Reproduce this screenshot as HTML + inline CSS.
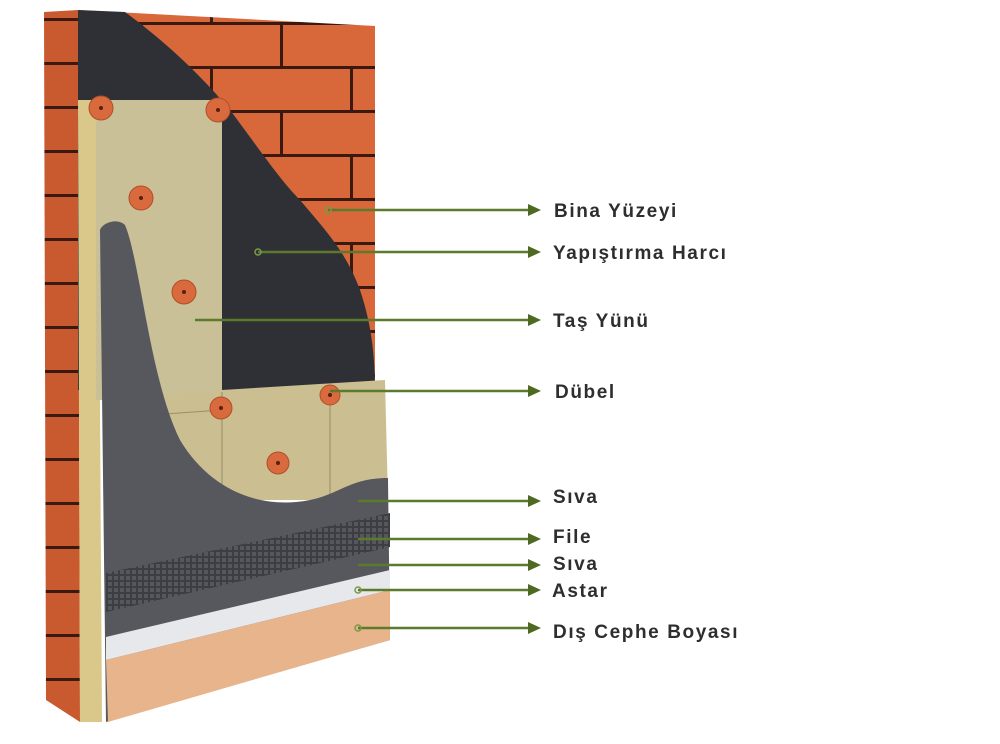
<!DOCTYPE html>
<html><head><meta charset="utf-8"><style>
html,body{margin:0;padding:0;background:#fff;}
svg{display:block;}
text{font-family:"Liberation Sans","DejaVu Sans",sans-serif;font-size:19px;font-weight:bold;fill:#2e2e2e;letter-spacing:1.6px;}
</style></head><body>
<svg width="1000" height="744" viewBox="0 0 1000 744" xmlns="http://www.w3.org/2000/svg">
<defs>
<pattern id="brick" x="0" y="22" width="140" height="88" patternUnits="userSpaceOnUse">
<rect width="140" height="88" fill="#d8683a"/>
<rect x="0" y="0" width="140" height="3" fill="#3a1a10"/>
<rect x="0" y="44" width="140" height="3" fill="#3a1a10"/>
<rect x="0" y="0" width="3" height="44" fill="#3a1a10"/>
<rect x="70" y="44" width="3" height="44" fill="#3a1a10"/>
</pattern>
<pattern id="sbrick" x="0" y="18" width="40" height="44" patternUnits="userSpaceOnUse">
<rect width="40" height="44" fill="#c95a30"/>
<rect y="0" width="40" height="3" fill="#3a1a10"/>
</pattern>
<pattern id="mesh" width="6" height="6" patternUnits="userSpaceOnUse">
<rect width="6" height="6" fill="#3c3e44"/>
<rect width="4" height="4" fill="#55575d"/>
</pattern>
</defs>
<polygon points="44,12 78,10 80,722 46,700" fill="url(#sbrick)"/>
<polygon points="78,10 375,26 375,390 78,390" fill="url(#brick)"/>
<path d="M78,10 L125,12 C170,45 205,80 230,110 C260,150 280,180 300,200 C325,230 345,250 360,290 C370,320 375,350 375,390 L78,390 Z" fill="#2e3036"/>
<polygon points="78,100 98,100 102,722 80,722" fill="#d9c88a"/>
<rect x="96" y="100" width="126" height="300" fill="#c9c098"/>
<polygon points="150,395 222,390 385,380 388,500 150,500" fill="#cbbf92"/>
<line x1="222" y1="392" x2="222" y2="505" stroke="#9a8e66" stroke-width="1"/>
<line x1="330" y1="385" x2="330" y2="500" stroke="#9a8e66" stroke-width="1"/>
<line x1="150" y1="415" x2="222" y2="410" stroke="#9a8e66" stroke-width="1"/>
<path d="M100,230 C103,222 118,218 125,225 C140,260 150,380 180,440 C210,490 260,510 310,500 C340,494 350,478 388,478 L390,640 L106,722 Z" fill="#56585e"/>
<polygon points="106,573 390,513 390,547 106,612" fill="url(#mesh)"/>
<polygon points="106,637 390,570 390,590 106,660" fill="#e6e8ec"/>
<polygon points="106,660 390,590 390,640 108,722" fill="#e8b48c"/>
<g fill="#d86a3e" stroke="#b24e28" stroke-width="1">
<circle cx="101" cy="108" r="12"/><circle cx="218" cy="110" r="12"/>
<circle cx="141" cy="198" r="12"/><circle cx="184" cy="292" r="12"/>
<circle cx="221" cy="408" r="11"/><circle cx="330" cy="395" r="10"/>
<circle cx="278" cy="463" r="11"/>
</g>
<g fill="#5a2010">
<circle cx="101" cy="108" r="2"/><circle cx="218" cy="110" r="2"/><circle cx="141" cy="198" r="2"/><circle cx="184" cy="292" r="2"/><circle cx="221" cy="408" r="2"/><circle cx="330" cy="395" r="2"/><circle cx="278" cy="463" r="2"/>
</g>
<g stroke="#5c7a2c" stroke-width="2.5" fill="none">
<line x1="328" y1="210" x2="532" y2="210"/>
<line x1="258" y1="252" x2="532" y2="252"/>
<line x1="195" y1="320" x2="532" y2="320"/>
<line x1="330" y1="391" x2="532" y2="391"/>
<line x1="358" y1="501" x2="532" y2="501"/>
<line x1="358" y1="539" x2="532" y2="539"/>
<line x1="358" y1="565" x2="532" y2="565"/>
<line x1="358" y1="590" x2="532" y2="590"/>
<line x1="358" y1="628" x2="532" y2="628"/>
</g>
<g fill="none" stroke="#7a9a44" stroke-width="1.5">
<circle cx="328" cy="210" r="3"/><circle cx="258" cy="252" r="3"/><circle cx="358" cy="590" r="3"/><circle cx="358" cy="628" r="3"/>
</g>
<g fill="#4e6a22">
<polygon points="528,204 541,210 528,216"/>
<polygon points="528,246 541,252 528,258"/>
<polygon points="528,314 541,320 528,326"/>
<polygon points="528,385 541,391 528,397"/>
<polygon points="528,495 541,501 528,507"/>
<polygon points="528,533 541,539 528,545"/>
<polygon points="528,559 541,565 528,571"/>
<polygon points="528,584 541,590 528,596"/>
<polygon points="528,622 541,628 528,634"/>
</g>
<text x="554" y="217">Bina Yüzeyi</text>
<text x="553" y="259">Yapıştırma Harcı</text>
<text x="553" y="327">Taş Yünü</text>
<text x="555" y="398">Dübel</text>
<text x="553" y="503">Sıva</text>
<text x="553" y="543">File</text>
<text x="553" y="570">Sıva</text>
<text x="552" y="597">Astar</text>
<text x="553" y="638">Dış Cephe Boyası</text>
</svg>
</body></html>
